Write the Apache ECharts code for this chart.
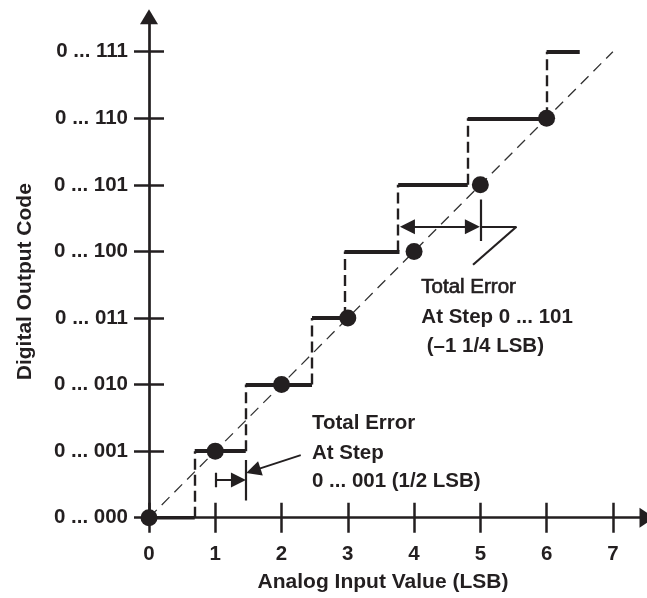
<!DOCTYPE html>
<html>
<head>
<meta charset="utf-8">
<title>ADC total error</title>
<script src="https://cdn.jsdelivr.net/npm/echarts@6/dist/echarts.min.js"></script>
<style>
  html, body { margin: 0; padding: 0; background: #fff; }
  #chart { width: 647px; height: 598px; }
</style>
</head>
<body>
<div id="chart"></div>
<script>
// axis ticks / labels
var xTicks = [0, 1, 2, 3, 4, 5, 6, 7];
var yTicks = [0, 1, 2, 3, 4, 5, 6, 7];
var yCodes = ['0 ... 000', '0 ... 001', '0 ... 010', '0 ... 011', '0 ... 100', '0 ... 101', '0 ... 110', '0 ... 111'];

// staircase: code k is output from stepStart[k] to stepEnd[k] (LSB)
var stepStart = [0, 0.69, 1.46, 2.46, 2.95, 3.76, 4.81, 6.0];
var stepEnd   = [0.69, 1.46, 2.46, 2.95, 3.78, 4.81, 6.0, 6.5];
// code transitions (dashed risers), riser k goes from code k to code k+1
var risers = [0.69, 1.46, 2.46, 2.95, 3.76, 4.81, 6.0];

// ideal transfer points (dots) and ideal line
var dotX = [0, 1, 2, 3, 4, 5, 6];
var dotY = [0, 1, 2, 3, 4, 5, 6];
var idealX = [0, 7];
var idealY = [0, 7];

// error markers (data coords)
var plainSegs = [
  [[1, 0.676], [1, 0.456]],        // tick at 1 LSB
  [[1.46, 0.26], [1.46, 0.866]],   // bar at transition 0..001
  [[5, 4.78], [5, 4.155]],         // bar at 5 LSB
  [[5, 4.37], [5.545, 4.37]],      // leader for step 0..101
  [[5.545, 4.37], [4.89, 3.80]]
];
var oneArrows = [
  [[1, 0.566], [1.35, 0.566]],     // 1/2 LSB arrow
  [[2.29, 0.94], [1.574, 0.706]]   // pointer to note 1
];
var twoArrows = [
  [[3.90, 4.37], [4.88, 4.37]]     // -1 1/4 LSB span
];

// notes
var note1Lines = ['Total Error', 'At Step', '0 ... 001 (1/2 LSB)'];
var note1X = [2.46, 2.46, 2.46];
var note1Y = [1.41, 0.97, 0.54];
var note2Lines = ['Total Error', 'At Step 0 ... 101', '(\u20131 1/4 LSB)'];
var note2X = [4.11, 4.11, 4.19];
var note2Y = [3.46, 3.01, 2.58];

var ink = '#231f20';
var font = "'Liberation Sans', Arial, Helvetica, sans-serif";

var chart = echarts.init(document.getElementById('chart'));

function segData(list) {
  return list.map(function (s) { return { coords: s }; });
}

var steps = [];
for (var i = 0; i < stepStart.length; i++) {
  steps.push({ coords: [[stepStart[i], i], [stepEnd[i], i]] });
}
var riserData = [];
for (var j = 0; j < risers.length; j++) {
  riserData.push({ coords: [[risers[j], j], [risers[j], j + 1]] });
}
var dots = dotX.map(function (x, k) { return [x, dotY[k]]; });
var ideal = idealX.map(function (x, k) { return [x, idealY[k]]; });

var notes = [];
note1Lines.forEach(function (t, k) {
  notes.push({ name: t, value: [note1X[k], note1Y[k]] });
});
note2Lines.forEach(function (t, k) {
  var item = { name: t, value: [note2X[k], note2Y[k]] };
  if (k === 0) {
    item.label = { fontWeight: 'normal', textBorderColor: ink, textBorderWidth: 0.7 };
  }
  notes.push(item);
});

option = {
  animation: false,
  backgroundColor: '#fff',
  grid: { left: 149, top: 16.7, width: 500.3, height: 501 },
  xAxis: [
    {
      type: 'value', min: 0, max: 7.515, position: 'bottom',
      name: 'Analog Input Value (LSB)', nameLocation: 'middle', nameGap: 54,
      nameTextStyle: { color: ink, fontFamily: font, fontWeight: 'bold', fontSize: 21, padding: [0, 30, 0, 0] },
      axisLine: { show: true, onZero: false, symbol: ['none', 'triangle'], symbolSize: [20, 15],
        lineStyle: { color: ink, width: 2.7 } },
      axisTick: { show: true, inside: false, length: 15, customValues: xTicks, lineStyle: { color: ink, width: 2.5 } },
      axisLabel: { show: true, margin: 26, customValues: xTicks, color: ink, fontFamily: font, fontWeight: 'bold', fontSize: 20.5 },
      splitLine: { show: false }
    },
    {
      type: 'value', min: 0, max: 7.515, position: 'bottom',
      axisLine: { show: false },
      axisTick: { show: true, inside: true, length: 15, customValues: xTicks, lineStyle: { color: ink, width: 2.5 } },
      axisLabel: { show: false },
      splitLine: { show: false }
    }
  ],
  yAxis: [
    {
      type: 'value', min: 0, max: 7.526, position: 'left',
      name: 'Digital Output Code', nameLocation: 'middle', nameGap: 113,
      nameTextStyle: { color: ink, fontFamily: font, fontWeight: 'bold', fontSize: 21, padding: [0, 29, 0, 0] },
      axisLine: { show: true, onZero: false, symbol: ['none', 'triangle'], symbolSize: [18, 15],
        lineStyle: { color: ink, width: 2.7 } },
      axisTick: { show: true, inside: false, length: 15, customValues: yTicks, lineStyle: { color: ink, width: 2.5 } },
      axisLabel: {
        show: true, margin: 21, customValues: yTicks, color: ink, fontFamily: font, fontWeight: 'bold', fontSize: 20.5,
        formatter: function (v) { return yCodes[Math.round(v)]; }
      },
      splitLine: { show: false }
    },
    {
      type: 'value', min: 0, max: 7.526, position: 'left',
      axisLine: { show: false },
      axisTick: { show: true, inside: true, length: 15, customValues: yTicks, lineStyle: { color: ink, width: 2.5 } },
      axisLabel: { show: false },
      splitLine: { show: false }
    }
  ],
  series: [
    {
      // ideal transfer line
      type: 'line', data: ideal, showSymbol: false, silent: true, z: 1,
      lineStyle: { color: '#333', width: 1.3, type: [11, 7] }
    },
    {
      // risers
      type: 'lines', coordinateSystem: 'cartesian2d', data: riserData, z: 2,
      lineStyle: { color: ink, width: 2.4, type: [11, 5], opacity: 1 }
    },
    {
      // steps
      type: 'lines', coordinateSystem: 'cartesian2d', data: steps, z: 3,
      lineStyle: { color: ink, width: 3.8, type: 'solid', opacity: 1 }
    },
    {
      type: 'lines', coordinateSystem: 'cartesian2d', data: segData(plainSegs), z: 3,
      lineStyle: { color: ink, width: 2.2, opacity: 1 }
    },
    {
      type: 'lines', coordinateSystem: 'cartesian2d', data: segData(oneArrows), z: 3,
      symbol: ['none', 'triangle'], symbolSize: 15,
      lineStyle: { color: ink, width: 1.8, opacity: 1 }
    },
    {
      type: 'lines', coordinateSystem: 'cartesian2d', data: segData(twoArrows), z: 3,
      symbol: ['triangle', 'triangle'], symbolSize: 15,
      lineStyle: { color: ink, width: 2, opacity: 1 }
    },
    {
      // ideal points
      type: 'scatter', data: dots, symbolSize: 17, z: 5,
      itemStyle: { color: ink, opacity: 1 }
    },
    {
      // notes
      type: 'scatter', data: notes, symbolSize: 0, clip: false, z: 6, silent: true,
      itemStyle: { color: ink, opacity: 1 },
      label: {
        show: true, position: 'right', distance: 0, formatter: '{b}',
        color: ink, opacity: 1, fontFamily: font, fontWeight: 'bold', fontSize: 20.5
      }
    }
  ]
};
chart.setOption(option);
</script>
</body>
</html>
